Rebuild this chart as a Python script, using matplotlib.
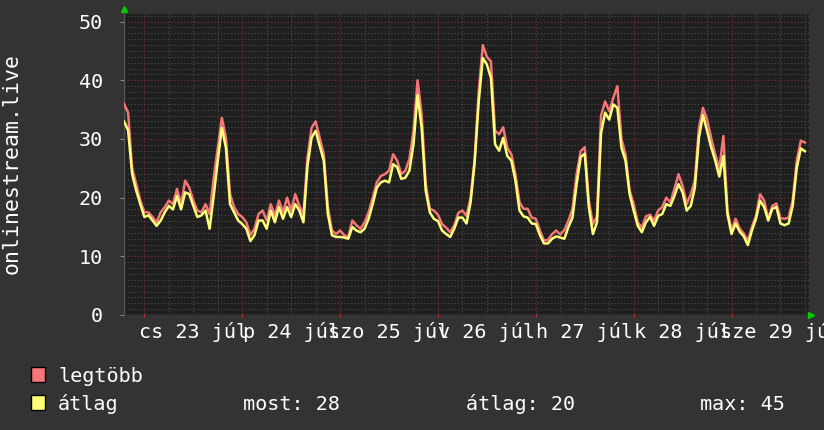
import matplotlib
matplotlib.use("Agg")
import matplotlib.pyplot as plt
from matplotlib.patches import Rectangle
from matplotlib.transforms import blended_transform_factory
import numpy as np

# ---- data (hourly samples, hours relative to Jul 23 00:00) ----
hours = np.arange(-5, 163)
legtobb = [
    36.0, 34.5, 25.0, 22.3, 19.5,
    17.5, 17.5, 16.7, 15.8, 17.5, 18.4, 19.5, 18.9, 21.5, 18.9, 22.9, 21.7,
    19.5, 17.8, 17.5, 18.9, 17.2, 23.4, 28.5, 33.6, 30.2, 20.6, 18.4, 17.2,
    16.7, 15.8, 13.6, 14.7, 17.2, 17.8, 16.1, 18.9, 16.9, 19.5, 17.5, 20.0,
    17.8, 20.6, 18.6, 17.2, 26.8, 31.9, 33.0, 30.2, 27.4, 18.4, 14.4, 13.8,
    14.4, 13.6, 13.3, 16.1, 15.3, 14.7, 15.8, 17.5, 20.0, 22.6, 23.7, 24.0,
    24.6, 27.4, 26.3, 24.0, 24.6, 26.6, 31.4, 40.0, 34.2, 22.3, 18.1, 17.8,
    17.1, 15.5, 14.9, 14.1, 15.3, 17.4, 17.8, 16.9, 20.0, 26.6, 38.1, 46.0,
    44.0, 43.2, 31.4, 30.8, 32.0, 28.5, 27.4, 24.0, 19.2, 18.1, 18.1, 16.6,
    16.4, 14.4, 12.7, 12.8, 13.8, 14.4, 13.7, 14.5, 16.1, 18.1, 24.0, 27.9,
    28.6, 19.5, 15.5, 16.8, 34.0, 36.4, 34.7, 37.0, 39.0, 30.0, 27.4, 21.2,
    18.9, 15.8, 14.9, 16.8, 17.1, 16.1, 17.8, 18.4, 20.0, 19.2, 21.5, 24.0,
    22.0, 18.9, 20.6, 22.9, 31.9, 35.3, 33.3, 30.2, 27.4, 24.9, 30.5, 17.8,
    14.4, 16.4, 14.7, 13.9, 12.6, 15.0, 16.9, 20.6, 19.5, 16.4, 18.6, 19.0,
    16.5, 16.4, 16.6, 19.5, 26.3, 29.7, 29.4,
]
atlag = [
    33.0, 31.5, 24.0, 21.2, 18.9,
    16.7, 17.0, 16.1, 15.2, 16.1, 17.5, 18.6, 18.0, 20.3, 18.0, 20.9, 20.6,
    18.6, 16.7, 17.0, 17.8, 14.7, 20.3, 26.3, 31.9, 28.5, 18.9, 17.5, 16.1,
    15.5, 14.7, 12.6, 13.6, 16.1, 16.1, 14.7, 17.8, 15.8, 18.4, 16.4, 18.4,
    16.7, 18.9, 17.8, 15.8, 25.4, 30.2, 31.4, 28.8, 26.3, 17.2, 13.6, 13.3,
    13.3, 13.2, 13.0, 15.0, 14.4, 14.1, 14.7, 16.4, 18.9, 21.7, 22.6, 22.9,
    22.6, 25.7, 25.2, 23.2, 23.4, 24.6, 29.1, 37.5, 31.9, 21.2, 17.5, 16.4,
    16.0, 14.4, 13.8, 13.3, 14.7, 16.6, 16.6, 15.6, 19.2, 26.0, 36.4, 43.8,
    42.7, 40.4, 29.1, 28.0, 30.2, 27.1, 26.3, 22.9, 17.8, 16.8, 16.6, 15.6,
    15.5, 13.6, 12.2, 12.2, 13.0, 13.4, 13.2, 13.0, 15.0, 16.6, 22.3, 26.9,
    27.5, 18.4, 13.8, 15.8, 31.0, 34.5, 33.3, 35.9, 35.3, 28.5, 26.3, 20.6,
    17.8, 15.2, 14.1, 15.8, 16.7, 15.2, 16.9, 17.2, 18.9, 18.6, 20.3, 22.3,
    20.9, 17.8, 18.6, 21.7, 30.2, 34.1, 31.4, 28.6, 26.3, 23.6, 27.1, 17.2,
    13.8, 15.6, 14.2, 13.4, 11.9, 14.4, 16.4, 19.5, 18.4, 16.1, 18.1, 18.4,
    15.6, 15.3, 15.6, 18.6, 25.1, 28.4, 27.9,
]
day_labels = ["cs 23 júl", "p 24 júl", "szo 25 júl", "v 26 júl",
              "h 27 júl", "k 28 júl", "sze 29 júl"]
y_ticks = [0, 10, 20, 30, 40, 50]
series_names = ["legtöbb", "átlag"]
stat_labels = ["most: 28", "átlag: 20", "max: 45"]
y_title = "onlinestream.live"

# ---- style ----
W, H = 824, 430
BG = "#333333"
PLOT_BG = "#1f1f1f"
RED = "#f47676"
YEL = "#ffff78"
MONO = "DejaVu Sans Mono"
FS = 14.5

fig = plt.figure(figsize=(W / 100, H / 100), dpi=100, facecolor=BG)

def fx(px):
    return px / W

def fy(py):
    return 1 - py / H

x0, x1, ytop, ybot = 124, 809, 14, 315
ax = fig.add_axes([fx(x0), fy(ybot), fx(x1 - x0), (ybot - ytop) / H])
ax.set_facecolor(PLOT_BG)
ax.set_xlim(-5, 163)
ax.set_ylim(0, 51.3)
for s in ax.spines.values():
    s.set_visible(False)

dot = (0, (1, 2))
for v in range(1, 52):
    if v % 10:
        ax.axhline(v, color="#4c4c4c", lw=0.8, ls=dot, zorder=1)
for v in range(10, 51, 10):
    ax.axhline(v, color="#7a2e2e", lw=0.8, ls=dot, zorder=1)
for h in range(-0, 163, 6):
    if h % 24:
        ax.axvline(h, color="#4c4c4c", lw=0.8, ls=dot, zorder=1)
for h in range(0, 163, 24):
    ax.axvline(h, color="#7a2e2e", lw=0.8, ls=dot, zorder=1)

# axes lines
ax.axhline(0, color="#555555", lw=1.0, zorder=2)
ax.axvline(-5, color="#555555", lw=1.0, zorder=2)

ax.plot(hours, legtobb, color=RED, lw=1.8, zorder=3)
ax.plot(hours, atlag, color=YEL, lw=1.8, zorder=4)

# arrows
ax.plot([-5], [52.2], marker="^", color="#00cc00", ms=5, clip_on=False, zorder=5)
ax.plot([163.6], [0], marker=">", color="#00cc00", ms=5, clip_on=False, zorder=5)

# y ticks
ax.set_yticks(y_ticks)
ax.set_yticklabels([str(v) for v in y_ticks], family=MONO, fontsize=FS, color="white")
ax.tick_params(axis="y", length=3, color="#888888", pad=12)
ax.set_xticks(range(0, 163, 24))
ax.set_xticklabels([])
ax.tick_params(axis="x", length=3, color="#b03030", direction="inout")

# x day labels centred at noon
tr = blended_transform_factory(ax.transData, fig.transFigure)
for k, lab in enumerate(day_labels):
    ax.text(12 + 24 * k, fy(338), lab, transform=tr, ha="center", va="baseline",
            family=MONO, fontsize=FS, color="white", clip_on=False)

# y title
fig.text(fx(12), fy(164), y_title, rotation=90, ha="center", va="center",
         family=MONO, fontsize=15.5, color="white")

# legend
for i, (name, col) in enumerate(zip(series_names, [RED, YEL])):
    yb = 367 + 28 * i
    fig.patches.append(Rectangle((fx(31), fy(yb + 15)), 14 / W, 15 / H,
                                 transform=fig.transFigure, facecolor=col,
                                 edgecolor="black", lw=1.0))
    fig.text(fx(58), fy(yb + 15), name, ha="left", va="baseline",
             family=MONO, fontsize=FS, color="white")
for xpx, lab in zip([243, 466, 700], stat_labels):
    fig.text(fx(xpx), fy(410), lab, ha="left", va="baseline",
             family=MONO, fontsize=FS, color="white")

fig.savefig("out.png", dpi=100, facecolor=BG)
